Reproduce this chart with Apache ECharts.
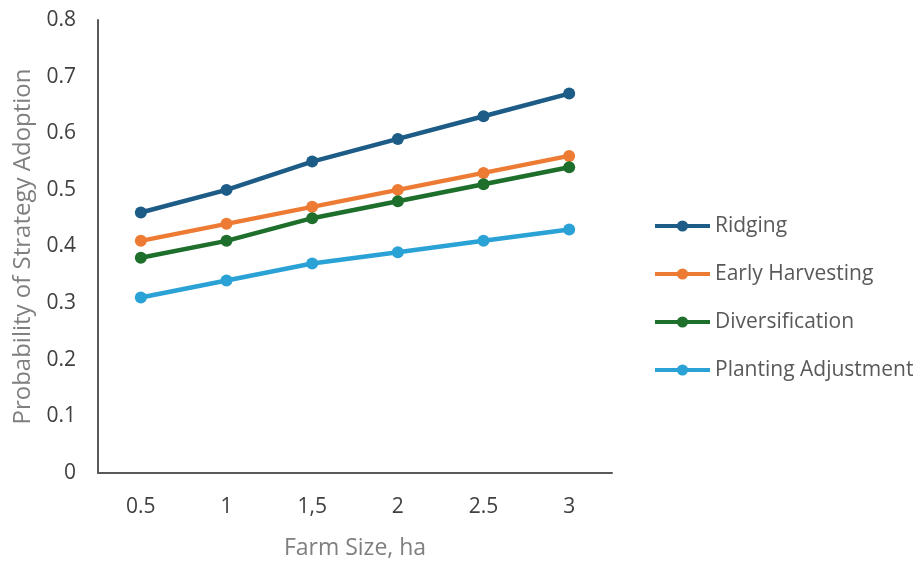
<!DOCTYPE html>
<html>
<head>
<meta charset="utf-8">
<script src="https://cdn.jsdelivr.net/npm/echarts@6/dist/echarts.min.js"></script>
<style>
  html, body { margin: 0; padding: 0; background: #fff; }
  #chart { width: 916px; height: 565px; }
</style>
</head>
<body>
<div id="chart"></div>
<script>
// Farm size categories (ha)
const farmSizes = ['0.5', '1', '1,5', '2', '2.5', '3'];

// Predicted probability of adopting each strategy
const ridging = [0.46, 0.50, 0.55, 0.59, 0.63, 0.67];
const earlyHarvesting = [0.41, 0.44, 0.47, 0.50, 0.53, 0.56];
const diversification = [0.38, 0.41, 0.45, 0.48, 0.51, 0.54];
const plantingAdjustment = [0.31, 0.34, 0.37, 0.39, 0.41, 0.43];

const seriesNames = ['Ridging', 'Early Harvesting', 'Diversification', 'Planting Adjustment'];
const seriesColors = ['#1d5c87', '#ee7b33', '#1e6e2c', '#2aa2d6'];
const seriesValues = [ridging, earlyHarvesting, diversification, plantingAdjustment];

const font = '"Open Sans", "Noto Sans", sans-serif';

const chart = echarts.init(document.getElementById('chart'));
chart.setOption({
  animation: false,
  color: seriesColors,
  grid: { left: 98, right: 304, top: 20, bottom: 92 },
  legend: {
    orient: 'vertical',
    left: 648,
    top: 210,
    itemWidth: 55,
    itemHeight: 14,
    itemGap: 26,
    data: seriesNames,
    lineStyle: { width: 4 },
    textStyle: { color: '#595959', fontSize: 21, lineHeight: 22, fontFamily: font }
  },
  xAxis: {
    type: 'category',
    data: farmSizes,
    boundaryGap: true,
    name: 'Farm Size, ha',
    nameLocation: 'middle',
    nameGap: 64,
    nameTextStyle: { color: '#7f7f7f', fontSize: 23, fontFamily: font },
    axisLine: { lineStyle: { color: '#595959', width: 2 } },
    axisTick: { show: false },
    axisLabel: { color: '#404040', fontSize: 21, fontFamily: font, margin: 24 },
    splitLine: { show: false }
  },
  yAxis: {
    type: 'value',
    min: 0,
    max: 0.8,
    interval: 0.1,
    name: 'Probability of Strategy Adoption',
    nameLocation: 'middle',
    nameGap: 60,
    nameTextStyle: { color: '#7f7f7f', fontSize: 24, fontFamily: font },
    axisLine: { show: true, lineStyle: { color: '#595959', width: 2 } },
    axisTick: { show: false },
    axisLabel: {
      color: '#404040', fontSize: 21, fontFamily: font, margin: 22,
      formatter: v => (Math.round(v * 10) / 10).toString()
    },
    splitLine: { show: false }
  },
  series: seriesNames.map((name, i) => ({
    name: name,
    type: 'line',
    data: seriesValues[i],
    symbol: 'circle',
    symbolSize: 12,
    lineStyle: { width: 4.5, color: seriesColors[i] },
    itemStyle: { color: seriesColors[i] }
  }))
});
</script>
</body>
</html>
